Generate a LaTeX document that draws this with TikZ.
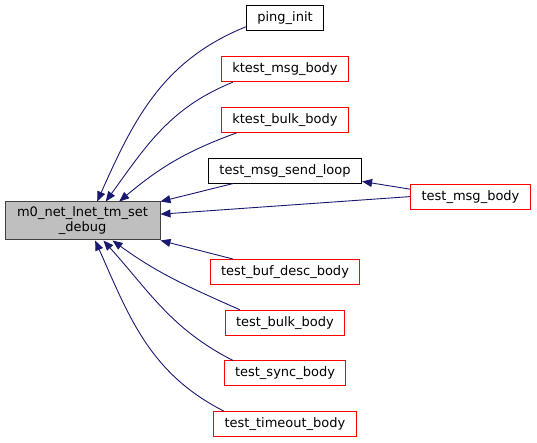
\documentclass[tikz,border=0pt]{standalone}
\usepackage{fontspec}
\setmainfont{DejaVu Sans}
\usepackage{tikz}
\usetikzlibrary{arrows.meta, positioning}
\definecolor{edgenavy}{RGB}{25,25,112}
\definecolor{nodegrey}{RGB}{191,191,191}
\definecolor{refred}{RGB}{255,0,0}

\begin{document}
\begin{tikzpicture}[
        x=1pt, y=1pt,
        node distance=24.7pt,
        fnbox/.style={rectangle, draw=black, fill=white, line width=1pt, inner xsep=11pt,
                      minimum height=25pt, align=center, font=\fontsize{13}{15}\selectfont},
        refbox/.style={fnbox, draw=refred},
        mainbox/.style={fnbox, draw=black!75, fill=nodegrey, minimum width=155pt, minimum height=38pt},
        arrow/.style={draw, -{Triangle[length=10pt, width=8pt]}, line width=0.9pt, edgenavy}
    ]
        \useasboundingbox (0,0) rectangle (537,-443);
        \node [mainbox] (setdebug) at (82.5,-221) {m0\_net\_lnet\_tm\_set\\\_debug};
        \node [fnbox] (pinginit) at (285,-18.5) {ping\_init};
        \node [refbox, below=of pinginit]  (ktestmsg)  {ktest\_msg\_body};
        \node [refbox, below=of ktestmsg]  (ktestbulk) {ktest\_bulk\_body};
        \node [fnbox, below=of ktestbulk]  (sendloop)  {test\_msg\_send\_loop};
        \node [refbox, below right=0pt and 48pt of sendloop] (msgbody) {test\_msg\_body};
        \node [refbox, below=75.4pt of sendloop] (bufdesc)  {test\_buf\_desc\_body};
        \node [refbox, below=of bufdesc]   (testbulk)  {test\_bulk\_body};
        \node [refbox, below=of testbulk]  (syncbody)  {test\_sync\_body};
        \node [refbox, below=of syncbody]  (timeout)   {test\_timeout\_body};
        \path [arrow] (pinginit.192) to[out=202, in=66] (setdebug.53);
        \path [arrow] (ktestmsg.194) to[out=202, in=54] (setdebug.40);
        \path [arrow] (ktestbulk.195) to[out=200, in=40] (setdebug.28);
        \path [arrow] (sendloop.194) -- (setdebug.14);
        \path [arrow] (msgbody.west) -- (setdebug.5);
        \path [arrow] (msgbody.173)  -- (sendloop.352);
        \path [arrow] (bufdesc.166)  -- (setdebug.346);
        \path [arrow] (testbulk.164) to[out=156, in=324] (setdebug.327);
        \path [arrow] (syncbody.166) to[out=153, in=312] (setdebug.317);
        \path [arrow] (timeout.168)  to[out=153, in=294] (setdebug.303);
    \end{tikzpicture}
\end{document}
